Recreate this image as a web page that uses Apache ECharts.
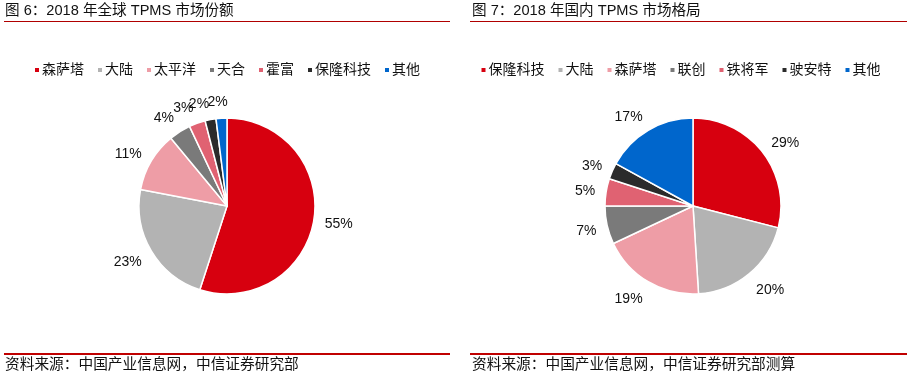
<!DOCTYPE html>
<html>
<head>
<meta charset="utf-8">
<script src="https://cdn.jsdelivr.net/npm/echarts@6/dist/echarts.min.js"></script>
<style>
  html, body { margin: 0; padding: 0; background: #fff; }
  #wrap { position: relative; width: 907px; height: 376px; }
  #left { position: absolute; left: 0; top: 0; width: 453px; height: 376px; }
  #right { position: absolute; left: 453px; top: 0; width: 454px; height: 376px; }
</style>
</head>
<body>
<div id="wrap">
  <div id="left"></div>
  <div id="right"></div>
</div>
<script>
// 图6 全球
var globalNames = ['森萨塔', '大陆', '太平洋', '天合', '霍富', '保隆科技', '其他'];
var globalShares = [55, 23, 11, 4, 3, 2, 2];
// 图7 国内
var chinaNames = ['保隆科技', '大陆', '森萨塔', '联创', '铁将军', '驶安特', '其他'];
var chinaShares = [29, 20, 19, 7, 5, 3, 17];

var COLORS = ['#D7000F', '#B3B3B3', '#EE9DA6', '#7A7A7A', '#E06272', '#2B2B2B', '#0066CC'];
var FONT = '"Liberation Sans", Arial, "Noto Sans CJK SC", sans-serif';
var PIE_R = 88, PIE_CY = 206, LABEL_GAP = 11;

function buildOption(title, source, names, values, cx, lineStart, lineEnd, textLeft) {
  var data = names.map(function (n, i) {
    return { name: n, value: values[i] };
  });
  var total = values.reduce(function (a, b) { return a + b; }, 0);

  // excel-like placement: anchor just outside the slice, text sits beside the anchor
  function placeLabel(params) {
    var before = 0;
    for (var i = 0; i < params.dataIndex; i++) before += values[i];
    var mid = (90 - (before + values[params.dataIndex] / 2) / total * 360) * Math.PI / 180;
    var dx = Math.cos(mid), dy = -Math.sin(mid);
    var w = params.labelRect.width;
    var ax = cx + dx * (PIE_R + LABEL_GAP);
    var ay = PIE_CY + dy * (PIE_R + LABEL_GAP);
    var side = (dx < 0 ? -1 : 1) * Math.min(1, Math.abs(dx) * 5);
    return {
      x: ax + side * w / 2,
      y: ay + dy * 7 + 2,
      align: 'center',
      verticalAlign: 'middle',
      hideOverlap: false
    };
  }

  return {
    animation: false,
    color: COLORS,
    textStyle: { fontFamily: FONT },
    legend: {
      top: 58,
      left: 'center',
      icon: 'rect',
      itemWidth: 6,
      itemHeight: 6,
      itemGap: 12,
      textStyle: { fontSize: 14, color: '#111', padding: [0, 0, 0, -3] },
      data: names
    },
    graphic: [
      {
        type: 'text', left: textLeft, top: 4,
        style: { text: title, fontSize: 14.6, fill: '#111', fontFamily: FONT }
      },
      {
        type: 'line',
        shape: { x1: lineStart, y1: 21.5, x2: lineEnd, y2: 21.5 },
        style: { stroke: '#B00000', lineWidth: 1 }
      },
      {
        type: 'line',
        shape: { x1: lineStart, y1: 354, x2: lineEnd, y2: 354 },
        style: { stroke: '#C00000', lineWidth: 2 }
      },
      {
        type: 'text', left: textLeft, top: 358,
        style: { text: source, fontSize: 14.7, fill: '#111', fontFamily: FONT }
      }
    ],
    series: [{
      type: 'pie',
      center: [cx, PIE_CY],
      radius: PIE_R,
      startAngle: 90,
      clockwise: true,
      avoidLabelOverlap: false,
      itemStyle: { borderColor: '#fff', borderWidth: 1.5 },
      label: {
        show: true,
        position: 'outside',
        formatter: '{c}%',
        fontSize: 14,
        color: '#111',
        fontFamily: FONT
      },
      labelLine: { show: false, length: 6, length2: 2 },
      labelLayout: placeLabel,
      emphasis: { disabled: true },
      data: data
    }]
  };
}

var leftChart = echarts.init(document.getElementById('left'));
leftChart.setOption(buildOption('图 6：2018 年全球 TPMS 市场份额',
  '资料来源：中国产业信息网，中信证券研究部',
  globalNames, globalShares, 227, 4, 450, 5));

var rightChart = echarts.init(document.getElementById('right'));
rightChart.setOption(buildOption('图 7：2018 年国内 TPMS 市场格局',
  '资料来源：中国产业信息网，中信证券研究部测算',
  chinaNames, chinaShares, 240, 17, 454, 19));
</script>
</body>
</html>
